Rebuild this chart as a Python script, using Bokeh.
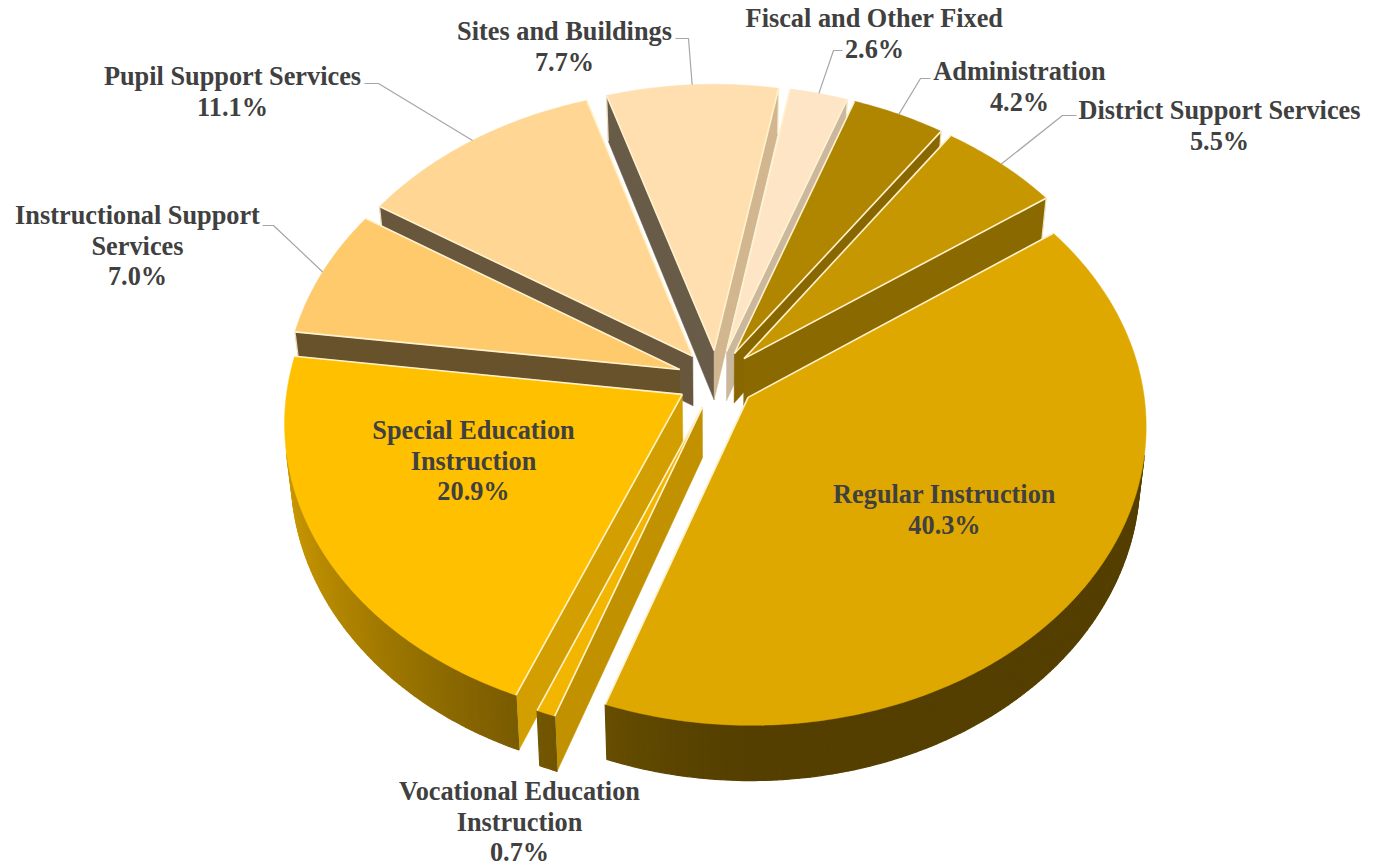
import numpy as np
from bokeh.plotting import figure
from bokeh.embed import file_html
from bokeh.resources import INLINE
from bokeh.core.properties import value as V

categories = ["Regular Instruction", "Vocational Education Instruction", "Special Education Instruction",
              "Instructional Support Services", "Pupil Support Services", "Sites and Buildings",
              "Fiscal and Other Fixed", "Administration", "District Support Services"]
values = [40.3, 0.7, 20.9, 7.0, 11.1, 7.7, 2.6, 4.2, 5.5]
colors = ["#dfa800", "#f2b600", "#ffc000", "#ffca6b", "#ffd693", "#ffdfb0", "#fde5c6", "#b08500", "#c69700"]
wall_light = [0.78, 0.80, 0.83, 0.78, 0.78, 0.82, 0.80, 0.78, 0.70]
label_lines = [["Regular Instruction", "40.3%"], ["Vocational Education", "Instruction", "0.7%"],
               ["Special Education", "Instruction", "20.9%"], ["Instructional Support", "Services", "7.0%"],
               ["Pupil Support Services", "11.1%"], ["Sites and Buildings", "7.7%"],
               ["Fiscal and Other Fixed", "2.6%"], ["Administration", "4.2%"], ["District Support Services", "5.5%"]]

# layout
label_pos = [(944, 494), (519, 791), (473, 430), (137, 215), (232, 76), (564, 31), (874, 18), (1019, 71), (1219, 110)]
leaders = {3: [(262, 225), (273, 225)], 4: [(364, 83), (378, 83)], 5: [(675, 38), (688, 38)],
           6: [(842, 50), (833, 50)], 7: [(930, 78), (920, 78)], 8: [(1076, 115), (1062, 115)]}
START = 54.6; EXPLODE = 0.10
CX, CY, S, SB, A, H, CONV = 716.0, 379.0, 394.0, 295.0, 0.09, 50.0, 0.015


def project(u, v, bottom=False):
    w = 1 + A * v
    x = CX + S * u / w
    y = CY - SB * v / w
    if bottom:
        x = CX + (x - CX) * (1 - CONV)
        y = y + H / w
    return x, y


def shade(c, f):
    r, g, b = int(c[1:3], 16), int(c[3:5], 16), int(c[5:7], 16)
    return "#%02x%02x%02x" % (int(r * f), int(g * f), int(b * f))


def faces_viewer(p1, p2, inner, low):
    """True if the side face hanging from edge p1-p2 is on the other side of the edge than the top face."""
    ex, ey = p2[0] - p1[0], p2[1] - p1[1]
    c_in = ex * (inner[1] - p1[1]) - ey * (inner[0] - p1[0])
    c_low = ex * (low[1] - p1[1]) - ey * (low[0] - p1[0])
    return c_in * c_low < 0


p = figure(width=1376, height=867, x_range=(0, 1376), y_range=(867, 0), output_backend="svg",
           toolbar_location=None, min_border=0, outline_line_color=None)
p.axis.visible = False
p.grid.visible = False

total = sum(values)
edges = START + np.cumsum([0] + values) / total * 360.0
order = sorted(range(len(values)), key=lambda i: -np.cos(np.radians((edges[i] + edges[i + 1]) / 2)))
edge_col = "#fff2cc"

for i in order:
    a0, a1 = edges[i], edges[i + 1]
    mid = np.radians((a0 + a1) / 2)
    ou, ov = EXPLODE * np.sin(mid), EXPLODE * np.cos(mid)
    th = np.radians(np.linspace(a0, a1, max(3, int((a1 - a0) / 0.75) + 2)))
    ru, rv = ou + np.sin(th), ov + np.cos(th)
    col = colors[i]
    xt, yt = project(ru, rv)
    xb, yb = project(ru, rv, True)
    ax, ay = project(ou, ov)
    bx, by = project(ou, ov, True)
    n = len(th)

    # radial walls
    for ang, sgn, k, other in ((th[0], -1, 0, -1), (th[-1], 1, -1, 0)):
        if not faces_viewer((ax, ay), (xt[k], yt[k]), (xt[other], yt[other]), (bx, by)):
            continue
        nx = sgn * np.cos(ang)
        f = wall_light[i] if nx > 0 else 0.41
        c = shade(col, f)
        p.patch([ax, xt[k], xb[k], bx], [ay, yt[k], yb[k], by], fill_color=c, line_color=c, line_width=0.5)
        p.line([xt[k], xb[k]], [yt[k], yb[k]], line_color=edge_col, line_width=1.2, line_alpha=0.8)

    # outer rim as shaded strips
    xs, ys, cs = [], [], []
    for j in range(n - 1):
        if not faces_viewer((xt[j], yt[j]), (xt[j + 1], yt[j + 1]), (ax, ay), (xb[j], yb[j])):
            continue
        tm = (th[j] + th[j + 1]) / 2
        f = 0.38 + 0.42 * max(0.0, -np.sin(tm)) ** 1.5
        xs.append([xt[j], xt[j + 1], xb[j + 1], xb[j]])
        ys.append([yt[j], yt[j + 1], yb[j + 1], yb[j]])
        cs.append(shade(col, f))
    if xs:
        p.patches(xs, ys, fill_color=cs, line_color=cs, line_width=1.2)

    # top face
    p.patch(np.r_[ax, xt], np.r_[ay, yt], fill_color=col, line_color=col, line_width=0.5)
    p.multi_line([[ax, xt[0]], [ax, xt[-1]]], [[ay, yt[0]], [ay, yt[-1]]],
                 line_color=edge_col, line_width=1.6)

# leaders
for i, pts in leaders.items():
    mid = np.radians((edges[i] + edges[i + 1]) / 2)
    ex, ey = project(EXPLODE * np.sin(mid) + np.sin(mid), EXPLODE * np.cos(mid) + np.cos(mid))
    p.line([q[0] for q in pts] + [ex], [q[1] for q in pts] + [ey], line_color="#a6a6a6", line_width=1.2)

# labels
tx, ty, tt = [], [], []
for lines, (lx, ly) in zip(label_lines, label_pos):
    for n, s in enumerate(lines):
        tx.append(lx); ty.append(ly + n * 30.5); tt.append(s)
p.text(tx, ty, text=tt, text_font=V("Liberation Serif"), text_font_style="bold", text_font_size="26.3px",
       text_color="#404040", text_align="center", text_baseline="middle")

open("out.html", "w").write(file_html(p, INLINE))
